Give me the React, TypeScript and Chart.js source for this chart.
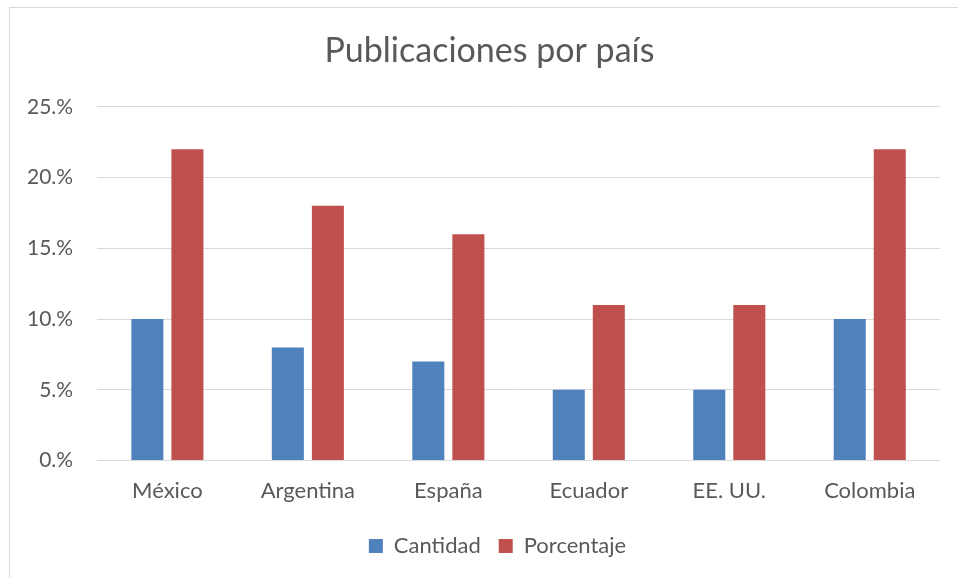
import React, { useEffect, useRef } from "react";
import { Chart, registerables } from "chart.js";

Chart.register(...registerables);

const categories = ["México", "Argentina", "España", "Ecuador", "EE. UU.", "Colombia"];
const cantidad = [10, 8, 7, 5, 5, 10];
const porcentaje = [22, 18, 16, 11, 11, 22];
const yTicks = [0, 5, 10, 15, 20, 25];

const FONT = "Lato, 'Open Sans', sans-serif";
const TEXT = "#595959";

const shiftPlugin = {
  id: "shiftBlocks",
  afterLayout(chart: any) {
    const t = chart.titleBlock;
    if (t) {
      t.left += 18;
      t.right += 18;
    }
    const l = chart.legend;
    if (l) {
      l.left += 26;
      l.right += 26;
      l.top -= 4;
      l.bottom -= 4;
    }
  },
};

export default function App() {
  const ref = useRef<HTMLCanvasElement | null>(null);
  useEffect(() => {
    document.body.style.margin = "0";
    const chart = new Chart(ref.current as HTMLCanvasElement, {
      type: "bar",
      data: {
        labels: categories,
        datasets: [
          { label: "Cantidad", data: cantidad, backgroundColor: "#4f81bd" },
          { label: "Porcentaje", data: porcentaje, backgroundColor: "#c0504d" },
        ],
      },
      options: {
        animation: false,
        responsive: false,
        maintainAspectRatio: false,
        layout: { padding: { left: 3, right: 18, top: 0, bottom: 7 } },
        datasets: { bar: { barPercentage: 0.8, categoryPercentage: 0.57 } },
        plugins: {
          title: {
            display: true,
            text: "Publicaciones por país",
            color: TEXT,
            font: { family: FONT, size: 34, weight: "normal" },
            padding: { top: 31, bottom: 35 },
          },
          legend: {
            position: "bottom",
            labels: {
              color: TEXT,
              font: { family: FONT, size: 22 },
              boxWidth: 14,
              boxHeight: 14,
              padding: 18,
            },
          },
          tooltip: { enabled: false },
        },
        scales: {
          x: {
            grid: { display: false, drawTicks: false },
            border: { display: false },
            ticks: { color: TEXT, font: { family: FONT, size: 22 }, padding: 17 },
          },
          y: {
            min: 0,
            max: 25,
            afterBuildTicks: (axis: any) => {
              axis.ticks = yTicks.map((v) => ({ value: v }));
            },
            grid: { color: "#d9d9d9", lineWidth: 1, drawTicks: false },
            border: { display: false },
            ticks: {
              color: TEXT,
              font: { family: FONT, size: 21 },
              padding: 24,
              callback: (v: any) => `${v}.%`,
            },
          },
        },
      },
      plugins: [shiftPlugin],
    });
    return () => chart.destroy();
  }, []);
  return (
    <div style={{ position: "relative", width: 958, height: 578, background: "#fff" }}>
      <canvas ref={ref} width={958} height={578} style={{ display: "block" }} />
      <div
        style={{
          position: "absolute",
          left: 9,
          top: 7,
          right: -10,
          bottom: -10,
          borderLeft: "1px solid #d9d9d9",
          borderTop: "1px solid #d9d9d9",
          pointerEvents: "none",
        }}
      />
    </div>
  );
}
